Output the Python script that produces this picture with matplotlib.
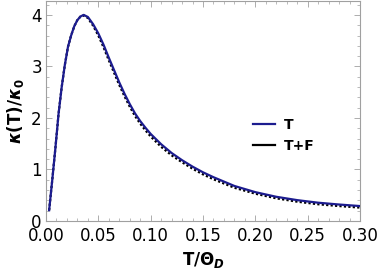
import numpy as np
import matplotlib
matplotlib.use("Agg")
import matplotlib.pyplot as plt
from matplotlib.lines import Line2D
from matplotlib.ticker import MultipleLocator

plt.rcParams["font.family"] = "DejaVu Sans"
plt.rcParams["mathtext.fontset"] = "dejavusans"

# 数据：κ(T)/κ0
t_vals = [0.003, 0.006, 0.009, 0.012, 0.015, 0.018, 0.021, 0.024, 0.027, 0.030,
          0.033, 0.036, 0.040, 0.045, 0.050, 0.055, 0.060, 0.065, 0.070, 0.075,
          0.080, 0.085, 0.090, 0.095, 0.100, 0.110, 0.120, 0.130, 0.140, 0.150,
          0.160, 0.180, 0.200, 0.220, 0.240, 0.260, 0.280, 0.300]
kappa_t = [0.21, 0.80, 1.42, 2.08, 2.60, 3.03, 3.38, 3.60, 3.78, 3.90,
           3.97, 4.00, 3.96, 3.82, 3.64, 3.42, 3.17, 2.93, 2.69, 2.47,
           2.27, 2.09, 1.94, 1.81, 1.69, 1.49, 1.32, 1.18, 1.055, 0.945,
           0.85, 0.68, 0.56, 0.47, 0.405, 0.355, 0.32, 0.29]
kappa_tf = [0.21, 0.80, 1.42, 2.08, 2.60, 3.03, 3.38, 3.60, 3.78, 3.90,
            3.97, 3.99, 3.94, 3.79, 3.60, 3.37, 3.12, 2.88, 2.64, 2.42,
            2.22, 2.04, 1.89, 1.76, 1.64, 1.44, 1.275, 1.14, 1.015, 0.905,
            0.81, 0.645, 0.53, 0.44, 0.375, 0.325, 0.29, 0.26]

blue = "#1c1c8f"
frame = "#a0a0a0"

fig = plt.figure(figsize=(3.82, 2.73), dpi=100)
ax = fig.add_axes([46 / 382, 52 / 273, 314 / 382, 220 / 273])

ax.plot(t_vals, kappa_t, color=blue, lw=1.6, zorder=3)
ax.plot(t_vals, kappa_tf, color="black", lw=1.6, linestyle=(0, (1, 1)), zorder=2)

ax.set_xlim(0, 0.30)
ax.set_ylim(0, 4.27)
ax.xaxis.set_major_locator(MultipleLocator(0.05))
ax.xaxis.set_minor_locator(MultipleLocator(0.01))
ax.yaxis.set_major_locator(MultipleLocator(1))
ax.yaxis.set_minor_locator(MultipleLocator(0.2))
ax.xaxis.set_major_formatter(matplotlib.ticker.FormatStrFormatter("%.2f"))

for s in ax.spines.values():
    s.set_color(frame)
    s.set_linewidth(0.8)
ax.tick_params(which="both", direction="in", top=True, right=True,
               color=frame, labelsize=12, labelcolor="black")
ax.tick_params(which="major", length=4.5, width=0.6)
ax.tick_params(axis="x", which="major", pad=4)
ax.tick_params(axis="y", which="major", pad=3)
ax.tick_params(which="minor", length=2.5, width=0.5)

ax.set_xlabel(r"T/$\mathbf{\Theta}_{\boldsymbol{D}}$", fontsize=12, fontweight="bold", labelpad=4)
ax.set_ylabel(r"$\boldsymbol{\kappa}$(T)/$\boldsymbol{\kappa}_\mathbf{0}$", fontsize=12,
              fontweight="bold", labelpad=4)

handles = [Line2D([], [], color=blue, lw=1.6), Line2D([], [], color="black", lw=1.6)]
ax.legend(handles, ["T", "T+F"], loc="center left", bbox_to_anchor=(0.62, 0.39),
          frameon=False, handlelength=1.6, handletextpad=0.6, labelspacing=0.5,
          prop={"weight": "bold", "size": 10})

fig.savefig("out.png", dpi=100)
